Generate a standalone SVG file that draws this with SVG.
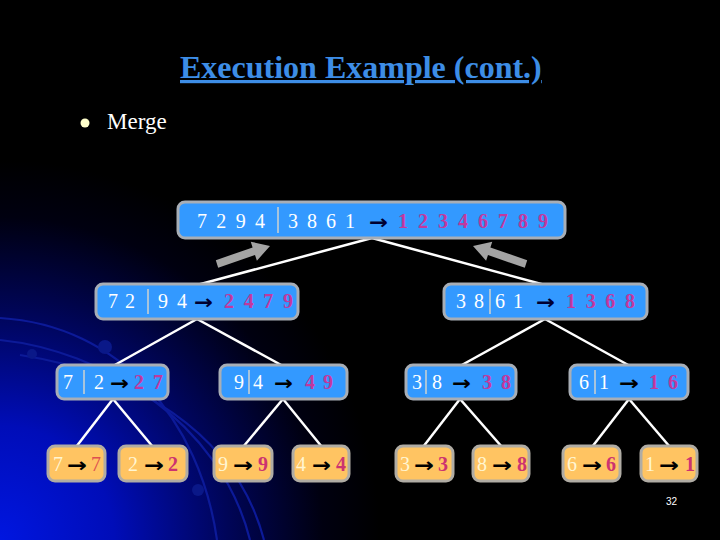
<svg xmlns="http://www.w3.org/2000/svg" width="720" height="540" viewBox="0 0 720 540">
<defs>
<radialGradient id="glow" cx="0" cy="540" r="380" gradientUnits="userSpaceOnUse">
<stop offset="0" stop-color="#0016e0"/>
<stop offset="0.3" stop-color="#000db8"/>
<stop offset="0.6" stop-color="#000558"/>
<stop offset="0.85" stop-color="#000010"/>
<stop offset="1" stop-color="#000000"/>
</radialGradient>
<path id="garrow" d="M215.8,260.2 L252.6,247.4 L250.75,241.7 L270,246 L256.9,260.7 L255,255 L218.2,267.8 Z"/>
<style>
.blue{fill:#3399ff;stroke:#a8aeb6;stroke-width:3}
.orange{fill:#ffc462;stroke:#b0aca4;stroke-width:3}
.d{font-family:"Liberation Serif","Times New Roman",serif;font-size:20px;fill:#ffffff}
.c{font-family:"Liberation Serif","Times New Roman",serif;font-size:20px;fill:#fff6d2}
.p{font-family:"Liberation Serif","Times New Roman",serif;font-size:20px;font-weight:bold;fill:#c2389e}
.r{font-family:"Liberation Serif","Times New Roman",serif;font-size:20px;font-weight:bold;fill:#cc3370}
.a{font-family:"DejaVu Sans",sans-serif;font-size:20px;font-weight:bold;fill:#000030}
.ab{font-family:"DejaVu Sans",sans-serif;font-size:20px;font-weight:bold;fill:#000000}
.div{stroke:#a8c4dc;stroke-width:2}
.conn{stroke:#ffffff;stroke-width:2.5;fill:none}
.arc{stroke:#0c1a98;stroke-width:2.2;fill:none}
</style>
</defs>
<rect x="0" y="0" width="720" height="540" fill="#000000"/>
<rect x="0" y="0" width="720" height="540" fill="url(#glow)"/>
<g id="background-arcs">
<path class="arc" d="M0,318 C120,325 200,420 217,540"/>
<path class="arc" d="M0,340 C100,350 220,420 250,540"/>
<path class="arc" d="M20,355 C130,372 235,430 264,540"/>
<circle cx="32" cy="354" r="5" fill="#0a1888"/>
<circle cx="105" cy="347" r="7" fill="#0a1888"/>
<circle cx="198" cy="490" r="6" fill="#0a1888"/>
</g>
<g id="title">
<text x="180" y="78" font-family="Liberation Serif,'Times New Roman',serif" font-size="32" font-weight="bold" fill="#3d8de6" text-decoration="underline">Execution Example (cont.)</text>
</g>
<g id="bullet">
<circle cx="85" cy="123" r="4.5" fill="#ffffcc"/>
<text x="107" y="129" font-family="Liberation Serif,'Times New Roman',serif" font-size="23" fill="#ffffff">Merge</text>
</g>
<g id="gray-arrows" fill="#a4a4a4">
<use href="#garrow"/>
<use href="#garrow" transform="translate(743,0) scale(-1,1)"/>
</g>
<g id="connectors">
<line class="conn" x1="372" y1="238" x2="197" y2="285"/>
<line class="conn" x1="372" y1="238" x2="545" y2="285"/>
<line class="conn" x1="197" y1="319" x2="113" y2="366"/>
<line class="conn" x1="197" y1="319" x2="283" y2="366"/>
<line class="conn" x1="545" y1="319" x2="460" y2="366"/>
<line class="conn" x1="545" y1="319" x2="630" y2="366"/>
<line class="conn" x1="113" y1="399" x2="76" y2="447"/>
<line class="conn" x1="113" y1="399" x2="153" y2="447"/>
<line class="conn" x1="283" y1="399" x2="243" y2="447"/>
<line class="conn" x1="283" y1="399" x2="322" y2="447"/>
<line class="conn" x1="460" y1="399" x2="423" y2="447"/>
<line class="conn" x1="460" y1="399" x2="502" y2="447"/>
<line class="conn" x1="629" y1="399" x2="592" y2="447"/>
<line class="conn" x1="629" y1="399" x2="670" y2="447"/>
</g>
<g id="root">
<rect class="blue" x="178" y="202" width="387" height="36" rx="7"/>
<text class="d" x="197" y="228" textLength="68" lengthAdjust="spacing">7 2 9 4</text>
<line class="div" x1="278" y1="207" x2="278" y2="233"/>
<text class="d" x="288" y="228" textLength="67" lengthAdjust="spacing">3 8 6 1</text>
<text class="a" x="369" y="229" textLength="19" lengthAdjust="spacingAndGlyphs">→</text>
<text class="p" x="398" y="228" textLength="150" lengthAdjust="spacing">1 2 3 4 6 7 8 9</text>
</g>
<g id="n-7294">
<rect class="blue" x="96" y="284" width="202" height="35" rx="7"/>
<text class="d" x="108" y="308" textLength="27" lengthAdjust="spacing">7 2</text>
<line class="div" x1="148" y1="289" x2="148" y2="314"/>
<text class="d" x="158" y="308" textLength="29" lengthAdjust="spacing">9 4</text>
<text class="a" x="194" y="309" textLength="19" lengthAdjust="spacingAndGlyphs">→</text>
<text class="p" x="224" y="308" textLength="69" lengthAdjust="spacing">2 4 7 9</text>
</g>
<g id="n-3861">
<rect class="blue" x="444" y="284" width="203" height="35" rx="7"/>
<text class="d" x="456" y="308" textLength="28" lengthAdjust="spacing">3 8</text>
<line class="div" x1="490" y1="289" x2="490" y2="314"/>
<text class="d" x="495" y="308" textLength="28" lengthAdjust="spacing">6 1</text>
<text class="a" x="536" y="309" textLength="19" lengthAdjust="spacingAndGlyphs">→</text>
<text class="p" x="566" y="308" textLength="69" lengthAdjust="spacing">1 3 6 8</text>
</g>
<g id="n-72">
<rect class="blue" x="57" y="365" width="111" height="34" rx="7"/>
<text class="d" x="63" y="389">7</text>
<line class="div" x1="84" y1="370" x2="84" y2="394"/>
<text class="d" x="94" y="389">2</text>
<text class="ab" x="110" y="390" textLength="19" lengthAdjust="spacingAndGlyphs">→</text>
<text class="p" x="134" y="389" textLength="29" lengthAdjust="spacing">2 7</text>
</g>
<g id="n-94">
<rect class="blue" x="220" y="365" width="127" height="34" rx="7"/>
<text class="d" x="234" y="389">9</text>
<line class="div" x1="249" y1="370" x2="249" y2="394"/>
<text class="d" x="253" y="389">4</text>
<text class="ab" x="274" y="390" textLength="19" lengthAdjust="spacingAndGlyphs">→</text>
<text class="p" x="305" y="389" textLength="28" lengthAdjust="spacing">4 9</text>
</g>
<g id="n-38">
<rect class="blue" x="406" y="365" width="110" height="34" rx="7"/>
<text class="d" x="412" y="389">3</text>
<line class="div" x1="426" y1="370" x2="426" y2="394"/>
<text class="d" x="432" y="389">8</text>
<text class="ab" x="452" y="390" textLength="19" lengthAdjust="spacingAndGlyphs">→</text>
<text class="p" x="482" y="389" textLength="29" lengthAdjust="spacing">3 8</text>
</g>
<g id="n-61">
<rect class="blue" x="570" y="365" width="118" height="34" rx="7"/>
<text class="d" x="579" y="389">6</text>
<line class="div" x1="595" y1="370" x2="595" y2="394"/>
<text class="d" x="599" y="389">1</text>
<text class="ab" x="619" y="390" textLength="20" lengthAdjust="spacingAndGlyphs">→</text>
<text class="p" x="649" y="389" textLength="29" lengthAdjust="spacing">1 6</text>
</g>
<g id="leaf-7">
<rect class="orange" x="48" y="446" width="57" height="35" rx="7"/>
<text class="c" x="53" y="471">7</text>
<text class="ab" x="67" y="472" textLength="20" lengthAdjust="spacingAndGlyphs">→</text>
<text x="91" y="471" font-family="Liberation Serif,'Times New Roman',serif" font-size="20" fill="#dd5050">7</text>
</g>
<g id="leaf-2">
<rect class="orange" x="119" y="446" width="68" height="35" rx="7"/>
<text class="c" x="128" y="471">2</text>
<text class="ab" x="144" y="472" textLength="20" lengthAdjust="spacingAndGlyphs">→</text>
<text class="r" x="168" y="471">2</text>
</g>
<g id="leaf-9">
<rect class="orange" x="214" y="446" width="58" height="35" rx="7"/>
<text class="c" x="218" y="471">9</text>
<text class="ab" x="233" y="472" textLength="20" lengthAdjust="spacingAndGlyphs">→</text>
<text class="r" x="258" y="471">9</text>
</g>
<g id="leaf-4">
<rect class="orange" x="293" y="446" width="56" height="35" rx="7"/>
<text class="c" x="296" y="471">4</text>
<text class="ab" x="312" y="472" textLength="19" lengthAdjust="spacingAndGlyphs">→</text>
<text class="r" x="336" y="471">4</text>
</g>
<g id="leaf-3">
<rect class="orange" x="396" y="446" width="57" height="35" rx="7"/>
<text class="c" x="400" y="471">3</text>
<text class="ab" x="414" y="472" textLength="20" lengthAdjust="spacingAndGlyphs">→</text>
<text class="r" x="438" y="471">3</text>
</g>
<g id="leaf-8">
<rect class="orange" x="473" y="446" width="56" height="35" rx="7"/>
<text class="c" x="477" y="471">8</text>
<text class="ab" x="492" y="472" textLength="20" lengthAdjust="spacingAndGlyphs">→</text>
<text class="r" x="517" y="471">8</text>
</g>
<g id="leaf-6">
<rect class="orange" x="563" y="446" width="57" height="35" rx="7"/>
<text class="c" x="567" y="471">6</text>
<text class="ab" x="582" y="472" textLength="20" lengthAdjust="spacingAndGlyphs">→</text>
<text class="r" x="606" y="471">6</text>
</g>
<g id="leaf-1">
<rect class="orange" x="641" y="446" width="56" height="35" rx="7"/>
<text class="c" x="645" y="471">1</text>
<text class="ab" x="659" y="472" textLength="20" lengthAdjust="spacingAndGlyphs">→</text>
<text class="r" x="685" y="471">1</text>
</g>
<g id="page-number">
<text x="666" y="505" font-family="Liberation Sans,Arial,sans-serif" font-size="10" fill="#ffffff">32</text>
</g>
</svg>
